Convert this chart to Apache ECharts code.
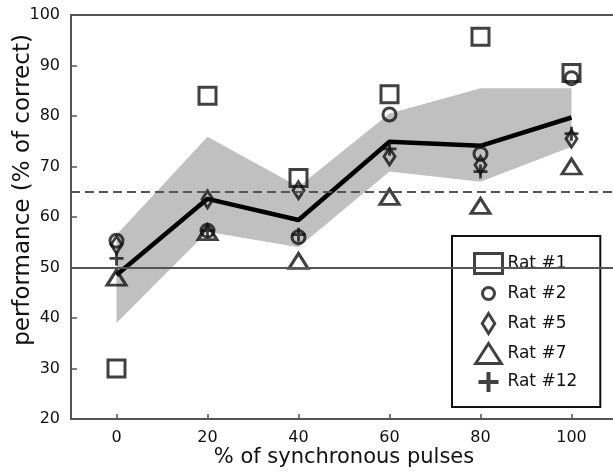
<!DOCTYPE html>
<html>
<head>
<meta charset="utf-8">
<script src="https://cdn.jsdelivr.net/npm/echarts@6/dist/echarts.min.js"></script>
<style>
  html, body { margin: 0; padding: 0; background: #fff; }
  #chart { width: 613px; height: 472px; }
</style>
</head>
<body>
<div id="chart"></div>
<script>
const xValues = [0, 20, 40, 60, 80, 100];
const xTicks = [0, 20, 40, 60, 80, 100];
const rat1 = [30, 84, 67.7, 84.3, 95.7, 88.5];
const rat2 = [55.3, 57.3, 56, 80.3, 72.5, 87.5];
const rat5 = [54.5, 63.5, 65.3, 72, 70.3, 75.5];
const rat7 = [48, 57, 51.3, 64, 62.2, 70];
const rat12 = [51.8, 57.3, 56.5, 73.5, 69, 76.5];
const meanPerf = [48.5, 63.6, 59.4, 74.9, 74.1, 79.7];
const bandLow = [39, 57.1, 54, 69, 67, 73.9];
const bandHigh = [56.5, 75.9, 66, 80.5, 85.5, 85.5];
const chanceLevel = 50;
const criterionLevel = 65;

const ink = "#111";
const font = "DejaVu Sans";

const diamondPath = "path://M5,0L10,8L5,16L0,8Z";
const trianglePath = "path://M0,14L9,0L18,14Z";
const plusPath = "path://M4,0H6V4H10V6H6V10H4V6H0V4H4Z";
// smaller circle inside a 20x20 box for the legend
const legendCircle = "path://M0,0M20,20M10,4A6,6 0 1 1 9.99,4Z";

const pairs = arr => xValues.map((x, i) => [x, arr[i]]);

// hollow markers like matplotlib
const hollow = { color: "rgba(0,0,0,0)", borderColor: ink, borderWidth: 3 };

const ratSeries = [
  { name: "Rat #1", data: rat1, symbol: "rect", size: 17, style: hollow },
  { name: "Rat #2", data: rat2, symbol: "circle", size: 13, style: hollow, legendIcon: legendCircle },
  { name: "Rat #5", data: rat5, symbol: diamondPath, size: [11, 17], style: hollow },
  { name: "Rat #7", data: rat7, symbol: trianglePath, size: [19, 15], style: hollow },
  { name: "Rat #12", data: rat12, symbol: plusPath, size: 14, style: { color: ink, borderWidth: 0 } }
];

const myChart = echarts.init(document.getElementById("chart"));

const option = {
  animation: false,
  backgroundColor: "#fff",
  textStyle: { fontFamily: font },
  grid: {
    left: 71, top: 15, right: -4, bottom: 53,
    outerBoundsMode: "none",
    show: true, borderColor: "#555", borderWidth: 2
  },
  xAxis: {
    type: "value",
    min: -10, max: 110,
    name: "% of synchronous pulses",
    nameLocation: "middle",
    nameGap: 28,
    nameMoveOverlap: false,
    nameTextStyle: { fontSize: 21, color: ink, fontFamily: font },
    axisLine: { onZero: false, lineStyle: { color: "#555", width: 2 } },
    axisTick: { inside: true, length: 5, customValues: xTicks, lineStyle: { color: "#555", width: 1.5 } },
    axisLabel: { customValues: xTicks, fontSize: 16, color: ink, margin: 11 },
    splitLine: { show: false }
  },
  yAxis: {
    type: "value",
    min: 20, max: 100, interval: 10,
    name: "performance (% of correct)",
    nameLocation: "middle",
    nameGap: 36,
    nameMoveOverlap: false,
    nameTextStyle: { fontSize: 23, color: ink, fontFamily: font, padding: [0, 0, 0, 54] },
    axisLine: { onZero: false, lineStyle: { color: "#555", width: 2 } },
    axisTick: { inside: true, length: 6, lineStyle: { color: "#555", width: 1.5 } },
    axisLabel: { fontSize: 16, color: ink, margin: 11 },
    splitLine: { show: false }
  },
  legend: {
    orient: "vertical",
    left: 452, top: 236,
    backgroundColor: "#fff",
    borderColor: ink, borderWidth: 2,
    padding: [16, 23, 15, 21],
    itemWidth: 28, itemHeight: 20, itemGap: 7,
    textStyle: { fontSize: 17, color: ink, fontFamily: font },
    data: ratSeries.map(s => ({
      name: s.name,
      icon: s.legendIcon,
      itemStyle: s.name === "Rat #12"
        ? { color: ink, borderWidth: 0 }
        : { color: "rgba(0,0,0,0)", borderColor: ink, borderWidth: 3 }
    }))
  },
  series: [
    {
      // grey spread band
      type: "custom",
      z: 1,
      silent: true,
      data: [[0, 50]],
      renderItem: function(params, api) {
        const upper = xValues.map((x, i) => api.coord([x, bandHigh[i]]));
        const lower = xValues.map((x, i) => api.coord([x, bandLow[i]])).reverse();
        return {
          type: "polygon",
          shape: { points: upper.concat(lower) },
          style: { fill: "#c0c0c0" }
        };
      }
    },
    {
      name: "mean",
      type: "line",
      z: 3,
      data: pairs(meanPerf),
      symbol: "none",
      lineStyle: { color: "#000", width: 4.5 },
      markLine: {
        silent: true,
        symbol: "none",
        label: { show: false },
        data: [
          { yAxis: chanceLevel, lineStyle: { type: "solid", color: "#555", width: 2 } },
          { yAxis: criterionLevel, lineStyle: { type: [9, 5], color: "#555", width: 2 } }
        ]
      }
    }
  ].concat(ratSeries.map(s => ({
    name: s.name,
    type: "scatter",
    z: 4,
    data: pairs(s.data),
    symbol: s.symbol,
    symbolSize: s.size,
    itemStyle: s.style
  })))
};

myChart.setOption(option);
</script>
</body>
</html>
